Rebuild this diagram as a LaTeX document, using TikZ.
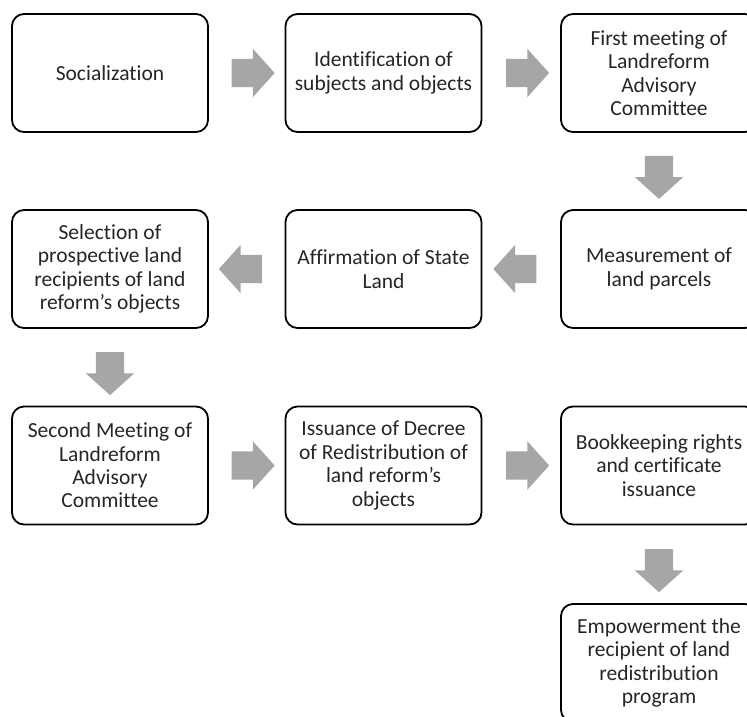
\documentclass[tikz,border=0pt]{standalone}
\usepackage{fontspec}
\setmainfont[Ligatures=NoCommon]{Carlito}
\usetikzlibrary{shapes.arrows,calc}
\begin{document}
\begin{tikzpicture}[x=1pt,y=-1pt,
  stepbox/.style={draw=black, line width=1.8pt, rounded corners=12pt, fill=white,
    minimum width=196pt, minimum height=118pt, align=center, inner sep=0pt,
    text=black!85, font=\fontsize{21.5}{23.4}\selectfont},
  blockarrow/.style={single arrow, fill=black!35, draw=none, inner xsep=0pt, inner ysep=14pt,
    minimum height=43pt, single arrow head extend=10pt,
    single arrow tip angle=96, single arrow head indent=0pt}]
\useasboundingbox (0,0) rectangle (747,716);
\clip (0,0) rectangle (747,716);
\fill[white] (0,0) rectangle (747,716);
\node[stepbox] (s1) at (110,73) {Socialization};
\node[stepbox] (s2) at (383.5,73) {Identification of\\subjects and objects};
\node[stepbox] (s3) at (659,73) {First meeting of\\Landreform\\Advisory\\Committee};
\node[stepbox] (s4) at (659,269) {Measurement of\\land parcels};
\node[stepbox] (s5) at (383.5,269) {Affirmation of State\\Land};
\node[stepbox] (s6) at (110,269) {Selection of\\prospective land\\recipients of land\\reform’s objects};
\node[stepbox] (s7) at (110,465.5) {Second Meeting of\\Landreform\\Advisory\\Committee};
\node[stepbox] (s8) at (383.5,465.5) {Issuance of Decree\\of Redistribution of\\land reform’s\\objects};
\node[stepbox] (s9) at (659,465.5) {Bookkeeping rights\\and certificate\\issuance};
\node[stepbox] (s10) at (659,663) {Empowerment the\\recipient of land\\redistribution\\program};
\node[blockarrow] (a1) at ($(s1.east)!0.5!(s2.west)$) {};
\node[blockarrow] (a2) at ($(s2.east)!0.5!(s3.west)$) {};
\node[blockarrow, rotate=-90] (a3) at ($(s3.south)!0.5!(s4.north)$) {};
\node[blockarrow, rotate=180] (a4) at ($(s4.west)!0.5!(s5.east)$) {};
\node[blockarrow, rotate=180] (a5) at ($(s5.west)!0.5!(s6.east)$) {};
\node[blockarrow, rotate=-90] (a6) at ($(s6.south)!0.5!(s7.north)$) {};
\node[blockarrow] (a7) at ($(s7.east)!0.5!(s8.west)$) {};
\node[blockarrow] (a8) at ($(s8.east)!0.5!(s9.west)$) {};
\node[blockarrow, rotate=-90] (a9) at ($(s9.south)!0.5!(s10.north)$) {};
\end{tikzpicture}
\end{document}
